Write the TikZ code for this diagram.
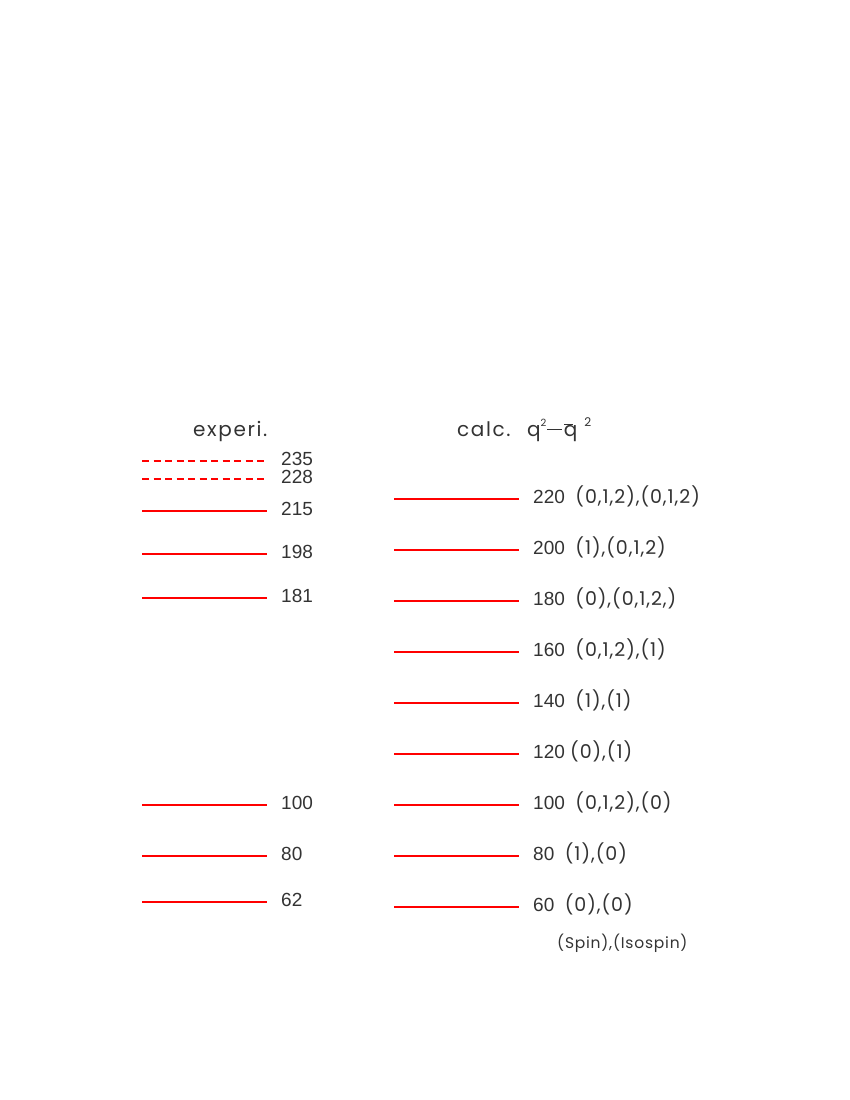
\documentclass[tikz,border=0pt]{standalone}
\usepackage{fontspec}
\setmainfont{Liberation Sans}
\newfontfamily\geo[LetterSpace=5]{Poppins}
\newfontfamily\geoh[LetterSpace=8]{Poppins}
\definecolor{txt}{HTML}{333333}
\newcommand{\pp}[1]{{\geo #1}}
\newcommand{\qbr}{\rlap{\kern0.03em\rule[0.54em]{0.42em}{1.1pt}}q}
\newcommand{\supt}{\raisebox{0.5em}{\fontsize{10}{10}\selectfont 2}}
\newcommand{\supb}{\raisebox{0.5em}{\fontsize{12}{12}\selectfont 2}}
\newcommand{\mns}{\rule[0.28em]{0.72em}{1.1pt}}
\begin{document}
\begin{tikzpicture}[x=1pt,y=-1pt,
  lvl/.style={draw=red,line width=2pt},
  dlvl/.style={lvl,dash pattern=on 7pt off 4.5pt},
  lab/.style={anchor=base west,inner sep=0pt,text=txt,font=\fontsize{19}{19}\selectfont},
  head/.style={anchor=base west,inner sep=0pt,text=txt,font=\geoh\fontsize{20}{20}\selectfont}]
\useasboundingbox (0,0) rectangle (850,1100);
% headers
\node[head] (hexp) at (193,436) {experi.};
\node[head] (hcalc) at (457,436) {calc.};
\node[head] (hqq) at (527,436) {q\supt\kern1pt\mns\kern2pt\qbr\kern7pt\supb};
% experimental levels
\foreach \v/\y/\s in {235/461/dlvl,228/479/dlvl,215/511/lvl,198/554/lvl,181/598/lvl,100/805/lvl,80/856/lvl,62/902/lvl}{
  \draw[\s] (142,\y) coordinate (ea\v) -- (267,\y) coordinate (eb\v);
  \node[lab] (et\v) at (281,\y+4) {\v};
}
% calculated levels
\foreach \v/\y/\t in {220/499/{\ \ \pp{(0,1,2),(0,1,2)}},
                      200/550/{\ \ \pp{(1),(0,1,2)}},
                      180/601/{\ \ \pp{(0),(0,1,2,)}},
                      160/652/{\ \ \pp{(0,1,2),(1)}},
                      140/703/{\ \ \pp{(1),(1)}},
                      120/754/{\ \pp{(0),(1)}},
                      100/805/{\ \ \pp{(0,1,2),(0)}},
                      80/856/{\ \ \pp{(1),(0)}},
                      60/907/{\ \ \pp{(0),(0)}}}{
  \draw[lvl] (394,\y) coordinate (ca\v) -- (519,\y) coordinate (cb\v);
  \node[lab] (ct\v) at (533,\y+4) {\v\t};
}
\node[lab,font=\geo\fontsize{15.5}{15.5}\selectfont] (legend) at (557,948) {(Spin),(Isospin)};
\end{tikzpicture}
\end{document}
